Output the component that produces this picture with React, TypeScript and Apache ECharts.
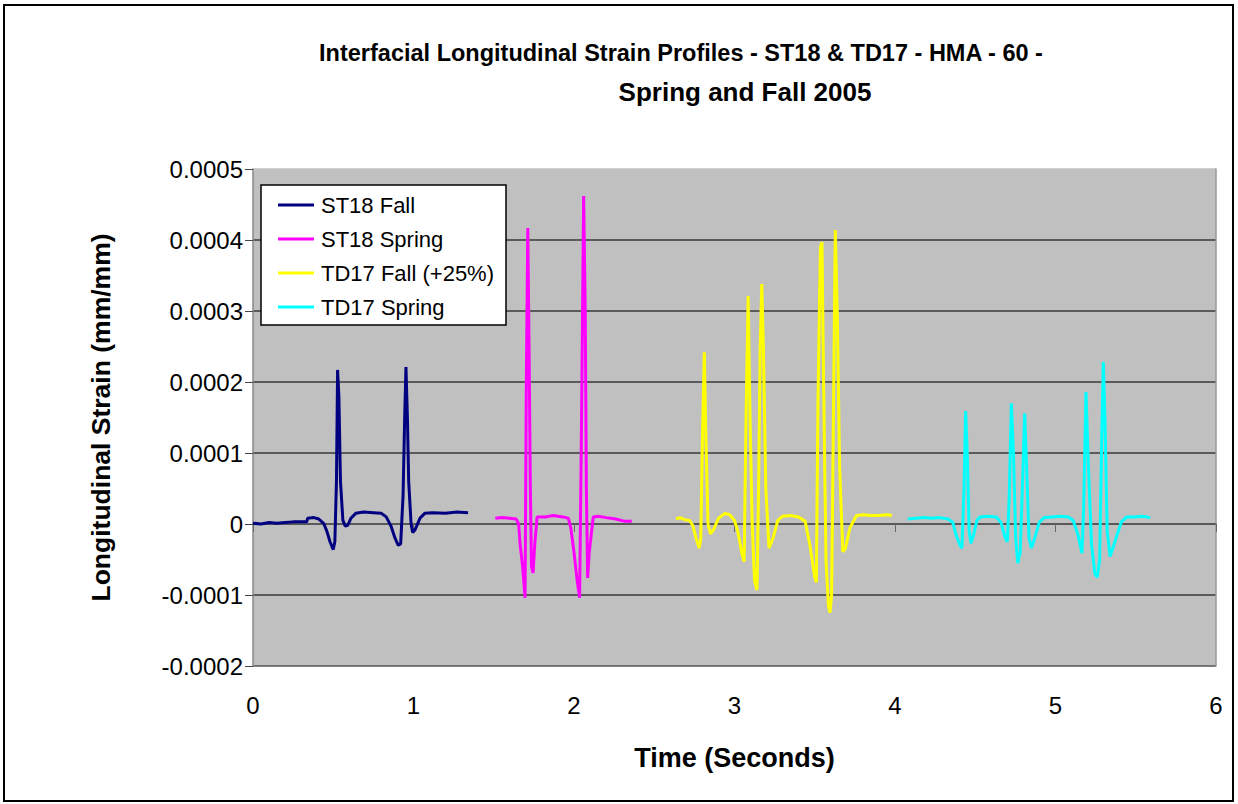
import React, { useEffect, useRef } from "react";
import * as echarts from "echarts";

const titleLine1 = "Interfacial Longitudinal Strain Profiles - ST18 & TD17 - HMA - 60 -";
const titleLine2 = "Spring and Fall 2005";
const xAxisName = "Time (Seconds)";
const yAxisName = "Longitudinal Strain (mm/mm)";
const seriesNames = ["ST18 Fall", "ST18 Spring", "TD17 Fall (+25%)", "TD17 Spring"];
const seriesColors = ["#000080", "#ff00ff", "#ffff00", "#00ffff"];

const st18FallT = [0, 0.05, 0.1, 0.15, 0.2, 0.25, 0.3, 0.335, 0.34, 0.38, 0.41, 0.44, 0.46, 0.48, 0.5, 0.51, 0.52, 0.527, 0.535, 0.545, 0.56, 0.575, 0.59, 0.61, 0.64, 0.69, 0.75, 0.8, 0.83, 0.86, 0.885, 0.905, 0.92, 0.935, 0.945, 0.953, 0.962, 0.97, 0.985, 0.995, 1.01, 1.04, 1.07, 1.12, 1.2, 1.27, 1.34];
const st18FallV = [0.000001, 0.0, 0.000002, 0.000001, 0.000002, 0.000003, 0.000003, 0.000003, 0.000008, 0.000009, 0.000007, 0.000001, -0.00001, -0.000025, -0.000036, -0.000025, 0.00006, 0.000217, 0.00018, 0.00006, 0.000005, -0.000003, -0.000002, 0.000008, 0.000015, 0.000017, 0.000016, 0.000015, 0.00001, -0.000003, -0.00002, -0.00003, -0.000028, 0.00004, 0.00015, 0.000221, 0.00015, 0.00006, 0.0, -0.000012, -0.000008, 0.000008, 0.000015, 0.000016, 0.000015, 0.000017, 0.000016];

const st18SpringT = [1.51, 1.55, 1.6, 1.64, 1.655, 1.665, 1.68, 1.695, 1.703, 1.712, 1.72, 1.728, 1.735, 1.745, 1.755, 1.77, 1.82, 1.87, 1.93, 1.965, 1.98, 2.0, 2.02, 2.035, 2.045, 2.06, 2.07, 2.077, 2.085, 2.095, 2.12, 2.15, 2.2, 2.26, 2.31, 2.36];
const st18SpringV = [0.000008, 0.000009, 0.000008, 0.000007, 0.0, -0.00003, -0.00006, -0.000104, 0.0002, 0.000417, 0.00025, 0.00005, -0.00006, -0.000069, -0.00003, 0.00001, 0.00001, 0.000012, 0.00001, 0.000008, -0.000005, -0.00004, -0.00008, -0.000104, 0.0001, 0.000462, 0.0003, 0.00005, -0.000076, -0.00004, 0.00001, 0.000011, 0.000009, 0.000007, 0.000004, 0.000004];

const td17FallT = [2.636, 2.66, 2.69, 2.72, 2.74, 2.76, 2.78, 2.79, 2.8, 2.812, 2.822, 2.835, 2.85, 2.87, 2.9, 2.94, 2.97, 3.0, 3.02, 3.045, 3.06, 3.072, 3.085, 3.097, 3.11, 3.125, 3.14, 3.15, 3.16, 3.17, 3.18, 3.195, 3.215, 3.24, 3.27, 3.3, 3.35, 3.4, 3.44, 3.47, 3.5, 3.51, 3.52, 3.535, 3.545, 3.555, 3.57, 3.585, 3.595, 3.605, 3.615, 3.628, 3.64, 3.655, 3.675, 3.69, 3.72, 3.76, 3.8, 3.85, 3.9, 3.95, 3.98];
const td17FallV = [0.000007, 0.000009, 0.000006, 0.000005, -0.000002, -0.00002, -0.000034, -0.00002, 0.00012, 0.000242, 0.00012, 0.0, -0.000014, -0.000008, 0.000008, 0.000015, 0.000013, 0.000005, -0.00001, -0.00004, -0.000053, 0.00015, 0.000321, 0.00015, 0.0, -0.00008, -0.000093, 0.00005, 0.00025, 0.000338, 0.00025, 0.00005, -0.000034, -0.00002, 0.000005, 0.000011, 0.000012, 0.00001, 0.000004, -0.00003, -0.000075, -0.000082, 0.00017, 0.00039, 0.000397, 0.0002, -0.00005, -0.000115, -0.000125, -0.0001, 0.00012, 0.000414, 0.0003, 0.00008, -0.000039, -0.000035, -0.000005, 0.000012, 0.000013, 0.000012, 0.000012, 0.000013, 0.000012];

const td17SpringT = [4.08, 4.13, 4.18, 4.23, 4.28, 4.33, 4.36, 4.38, 4.405, 4.417, 4.43, 4.44, 4.45, 4.462, 4.473, 4.49, 4.51, 4.53, 4.58, 4.63, 4.66, 4.685, 4.7, 4.712, 4.725, 4.738, 4.752, 4.765, 4.78, 4.795, 4.808, 4.82, 4.835, 4.85, 4.87, 4.9, 4.93, 4.98, 5.03, 5.08, 5.11, 5.14, 5.165, 5.175, 5.19, 5.205, 5.225, 5.245, 5.26, 5.275, 5.288, 5.298, 5.308, 5.322, 5.34, 5.37, 5.41, 5.445, 5.49, 5.54, 5.59];
const td17SpringV = [0.000007, 0.000008, 0.000009, 0.000008, 0.000009, 0.000007, 0.000002, -0.000015, -0.00003, -0.000034, 0.00005, 0.000159, 0.0001, -0.00001, -0.000027, -0.000015, 0.000005, 0.00001, 0.000011, 0.00001, 0.000002, -0.000018, -0.000025, 0.00004, 0.00017, 0.0001, -0.00002, -0.000055, -0.00004, 0.00006, 0.000156, 0.00008, -0.00002, -0.000034, -0.00002, 0.000003, 0.000009, 0.00001, 0.000011, 0.00001, 0.000005, -0.000015, -0.000041, 0.00002, 0.000186, 0.00008, -0.00003, -0.00007, -0.000075, -0.00005, 0.00012, 0.000228, 0.00015, -0.00001, -0.000046, -0.000025, 0.000003, 0.00001, 0.00001, 0.000011, 0.000009];

const seriesTimes = [st18FallT, st18SpringT, td17FallT, td17SpringT];
const seriesValues = [st18FallV, st18SpringV, td17FallV, td17SpringV];

const FONT = "Arial, 'Liberation Sans', sans-serif";

export default function App() {
  const ref = useRef<HTMLDivElement>(null);
  useEffect(() => {
    document.body.style.margin = "0";
    const chart = echarts.init(ref.current!, null, { renderer: "svg" });
    chart.setOption({
      animation: false,
      backgroundColor: "#ffffff",
      title: [
        {
          text: titleLine1,
          left: 676,
          top: 36,
          textAlign: "center",
          textStyle: { fontFamily: FONT, fontSize: 23.5, fontWeight: "bold", color: "#000" },
        },
        {
          text: titleLine2,
          left: 740,
          top: 74,
          textAlign: "center",
          textStyle: { fontFamily: FONT, fontSize: 26, fontWeight: "bold", color: "#000" },
        },
      ],
      graphic: [
        {
          type: "rect",
          shape: { x: 4, y: 5, width: 1229, height: 796 },
          style: { fill: "none", stroke: "#000", lineWidth: 2 },
          silent: true,
        },
      ],
      legend: {
        orient: "vertical",
        left: 261,
        top: 185,
        backgroundColor: "#ffffff",
        borderColor: "#000",
        borderWidth: 1.5,
        borderRadius: 0,
        padding: [9, 12, 7, 17],
        itemGap: 12,
        itemWidth: 36,
        itemHeight: 3,
        icon: "rect",
        data: seriesNames,
        textStyle: { fontFamily: FONT, fontSize: 22, color: "#000", padding: [0, 0, 0, 2] },
      },
      grid: {
        left: 253,
        right: 22,
        top: 169,
        bottom: 138,
        show: true,
        backgroundColor: "#c0c0c0",
        borderWidth: 0,
      },
      xAxis: {
        type: "value",
        min: 0,
        max: 6,
        interval: 1,
        name: xAxisName,
        nameLocation: "middle",
        nameGap: 78,
        nameTextStyle: { fontFamily: FONT, fontSize: 27, fontWeight: "bold", color: "#000" },
        axisLine: { show: true, lineStyle: { color: "#666", width: 1.5 } },
        axisTick: { show: true, length: 8, lineStyle: { color: "#666" } },
        axisLabel: { fontFamily: FONT, fontSize: 24, color: "#000", margin: 27 },
        splitLine: { show: false },
      },
      yAxis: [
        {
          type: "value",
          min: -0.0002,
          max: 0.0005,
          interval: 0.0001,
          name: yAxisName,
          nameLocation: "middle",
          nameGap: 139,
          nameTextStyle: { fontFamily: FONT, fontSize: 26.5, fontWeight: "bold", color: "#000" },
          axisLine: { show: true, lineStyle: { color: "#888", width: 1.5 } },
          axisTick: { show: true, length: 8, lineStyle: { color: "#444" } },
          axisLabel: {
            fontFamily: FONT,
            fontSize: 24,
            color: "#000",
            margin: 10,
            formatter: (v: number) => (Math.abs(v) < 1e-12 ? "0" : v.toFixed(4)),
          },
          splitLine: {
            show: true,
            lineStyle: {
              color: ["#555555", "#3a3a3a", "#000000", "#3a3a3a", "#3a3a3a", "#3a3a3a", "#3a3a3a", "#c0c0c0"],
              width: 1.5,
            },
          },
        },
        {
          type: "value",
          position: "right",
          min: -0.0002,
          max: 0.0005,
          interval: 0.0001,
          axisLine: { show: true, lineStyle: { color: "#999", width: 1.5 } },
          axisTick: { show: false },
          axisLabel: { show: false },
          splitLine: { show: false },
        },
      ],
      series: seriesNames.map((name, i) => ({
        name,
        type: "line",
        symbol: "none",
        showSymbol: false,
        color: seriesColors[i],
        lineStyle: { color: seriesColors[i], width: 3 },
        data: seriesTimes[i].map((t, j) => [t, seriesValues[i][j]]),
        z: 3 + i,
      })),
    });
    return () => chart.dispose();
  }, []);
  return <div ref={ref} style={{ width: 1238, height: 804 }} />;
}
